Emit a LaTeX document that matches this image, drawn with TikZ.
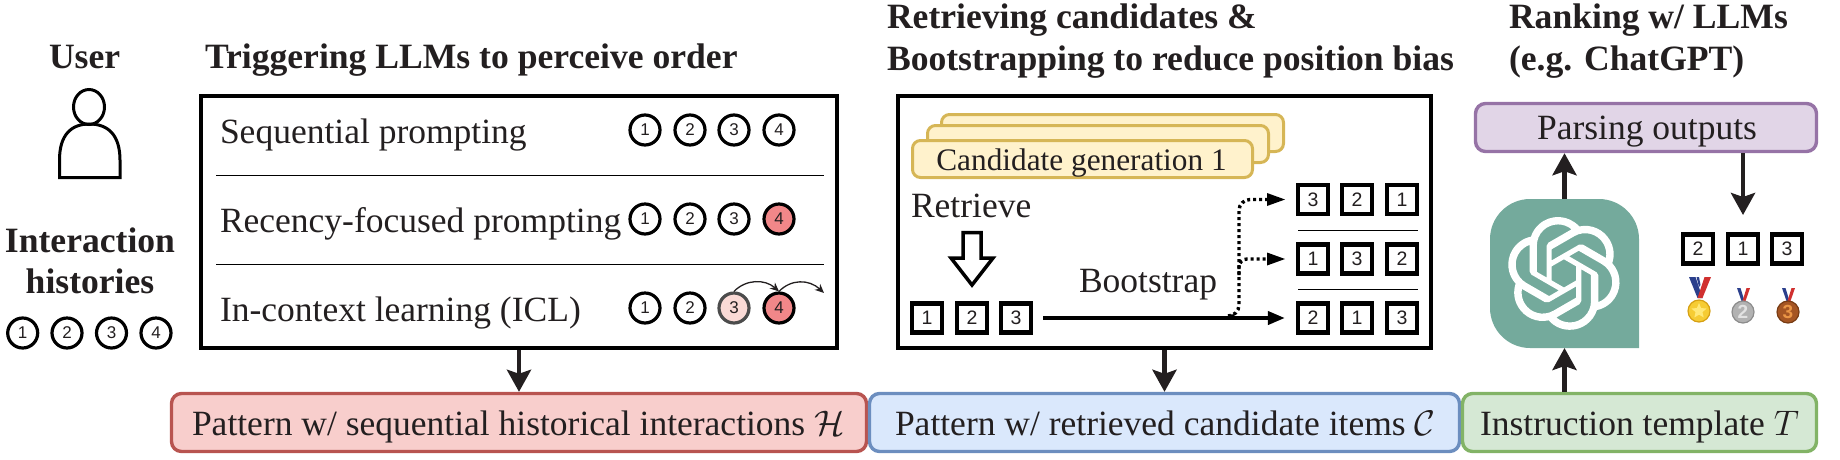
\documentclass[tikz,border=0pt]{standalone}
\usepackage{fix-cm}
\usepackage{fontspec}
\setmainfont{Liberation Serif}
\setsansfont{Liberation Sans}
\usetikzlibrary{arrows.meta,shapes.geometric,svg.path}
\definecolor{ink}{HTML}{231F20}
\definecolor{candfill}{HTML}{FFF2CC}
\definecolor{candline}{HTML}{D6B656}
\definecolor{ribblue}{HTML}{2B3F8C}
\definecolor{ribred}{HTML}{D0302F}
\newcommand{\sz}{\fontsize{35.5}{40}\selectfont}
\newcommand{\hd}{\fontsize{35.6}{42}\selectfont\bfseries}
\tikzset{
  txt/.style={anchor=base west,inner sep=0pt,outer sep=0pt,text=ink,font=\sz},
  head/.style={anchor=base west,inner sep=0pt,outer sep=0pt,text=ink,font=\hd},
  circ/.style={circle,draw=black,line width=3.2pt,minimum size=30pt,inner sep=0pt,fill=white,text=ink,font=\sffamily\fontsize{17}{17}\selectfont},
  sq/.style={rectangle,draw=black,line width=4.2pt,minimum width=30pt,minimum height=29pt,inner sep=0pt,fill=white,text=ink,font=\sffamily\fontsize{19.5}{20}\selectfont},
  mainbox/.style={rectangle,draw=black,line width=4pt,inner sep=0pt,outer sep=2pt},
  band/.style={rectangle,rounded corners=10pt,line width=3.4pt,inner sep=0pt,outer sep=1.7pt},
  cand/.style={rectangle,rounded corners=8pt,line width=3pt,draw=candline,fill=candfill,inner sep=0pt},
  bigarrow/.style={line width=4.6pt,draw=ink,-{Stealth[length=22pt,width=24pt,inset=4pt,fill=ink]}},
  inarrow/.style={line width=3.8pt,draw=black,-{Stealth[length=17pt,width=13pt,inset=0pt]}},
  dotarrow/.style={line width=3.4pt,draw=black,dash pattern=on 3pt off 3pt},
  sepline/.style={draw=black,line width=1pt},
  hop/.style={line width=1.3pt,draw=ink,-{Stealth[length=9pt,width=8pt]}},
  medalnum/.style={circle,line width=1.2pt,minimum size=22pt,inner sep=0pt,font=\bfseries\sffamily\fontsize{19}{19}\selectfont},
}
\begin{document}
\begin{tikzpicture}[x=1pt,y=-1pt]
\useasboundingbox (0,0) rectangle (1840,459);

% left column
\node[head] (tuser) at (49,68) {User};
\draw[line width=3pt,draw=black] (89,107) ellipse [x radius=15.5pt,y radius=17.5pt];
\draw[line width=3pt,draw=black,line join=miter] (59.5,177.5) -- (120,177.5) -- (120,160)
  .. controls (120,135) and (108,124) .. (89.5,124) .. controls (71,124) and (59.5,135) .. (59.5,160) -- cycle;
\node[head,anchor=base] (tinter) at (90,252) {Interaction};
\node[head,anchor=base] (thist) at (90,293) {histories};
\node[circ] (u1) at (22.7,333) {1};
\node[circ] (u2) at (67,333) {2};
\node[circ] (u3) at (111.5,333) {3};
\node[circ] (u4) at (156,333) {4};

% headings
\node[head] (h1) at (205,68) {Triggering LLMs to perceive order};
\node[head] (h2a) at (887,28) {Retrieving candidates \&};
\node[head] (h2b) at (887,70) {Bootstrapping to reduce position bias};
\node[head] (h3a) at (1509,28) {Ranking w/ LLMs};
\node[head] (h3b) at (1509,70) {(e.g. ChatGPT)};

% box 1
\node[mainbox,minimum width=636pt,minimum height=252pt] (box1) at (519,222) {};
\draw[sepline] (216,175) -- (824,175);
\draw[sepline] (216,264) -- (824,264);
\node[txt] (r1) at (220,143) {Sequential prompting};
\node[txt] (r2) at (220,232) {Recency-focused prompting};
\node[txt] (r3) at (220,321) {In-context learning (ICL)};
\node[circ] (a1) at (645,130) {1};
\node[circ] (a2) at (690,130) {2};
\node[circ] (a3) at (734,130) {3};
\node[circ] (a4) at (779,130) {4};
\node[circ] (b1) at (645,219) {1};
\node[circ] (b2) at (690,219) {2};
\node[circ] (b3) at (734,219) {3};
\node[circ,fill={rgb,255:red,241;green,135;blue,137}] (b4) at (779,219) {4};
\node[circ] (c1) at (645,308) {1};
\node[circ] (c2) at (690,308) {2};
\node[circ,fill={rgb,255:red,250;green,218;blue,214},draw=black!70] (c3) at (734,308) {3};
\node[circ,fill={rgb,255:red,241;green,135;blue,137}] (c4) at (779,308) {4};
\coordinate (hopend) at (824,293);
\draw[hop] (c3.north) .. controls (746,279) and (765,279) .. (c4.north);
\draw[hop] (c4.north) .. controls (791,279) and (809,279) .. (hopend);

% box 2
\node[mainbox,minimum width=533pt,minimum height=252pt] (box2) at (1164.5,222) {};
\node[cand,minimum width=342pt,minimum height=37pt] (g3) at (1112.5,133) {};
\node[cand,minimum width=341pt,minimum height=37pt] (g2) at (1098,144) {};
\node[cand,minimum width=340pt,minimum height=37pt] (g1) at (1082.5,159) {};
\node[anchor=base,inner sep=0pt,font=\fontsize{31.3}{36}\selectfont,text=ink] (g1t) at (1081.5,170) {Candidate generation 1};
\node[txt] (tret) at (911,217) {Retrieve};
\node[txt] (tboot) at (1079,292) {Bootstrap};
\draw[line width=3.5pt,draw=black,line join=miter,fill=white] (963,232.5) -- (981,232.5) -- (981,258) -- (993,258) -- (972,285) -- (951,258) -- (963,258) -- cycle;
\node[sq] (l1) at (927,318) {1};
\node[sq] (l2) at (972,318) {2};
\node[sq] (l3) at (1016,318) {3};
\node[sq] (s11) at (1313,199.5) {3};
\node[sq] (s12) at (1357,199.5) {2};
\node[sq] (s13) at (1402,199.5) {1};
\node[sq] (s21) at (1313,259) {1};
\node[sq] (s22) at (1357,259) {3};
\node[sq] (s23) at (1402,259) {2};
\node[sq] (s31) at (1313,318) {2};
\node[sq] (s32) at (1357,318) {1};
\node[sq] (s33) at (1402,318) {3};
\draw[sepline] (1298,230) -- (1418,230);
\draw[sepline] (1298,289) -- (1418,289);
\draw[dotarrow,rounded corners=11pt] (1234,316) -- (1239,316) -- (1239,199.5) -- (1268,199.5);
\draw[dotarrow,rounded corners=8pt] (1239,275) -- (1239,259) -- (1268,259);
\draw[inarrow,shorten <=10pt,shorten >=11pt] (l3.east) -- (s31.west);
\fill[black] (1267,193) -- (1285,199.5) -- (1267,206) -- cycle;
\fill[black] (1267,252.5) -- (1285,259) -- (1267,265.5) -- cycle;

% bands
\node[band,draw={rgb,255:red,184;green,84;blue,80},fill={rgb,255:red,248;green,206;blue,204},minimum width=695pt,minimum height=58pt] (red) at (519,422.5) {};
\node[band,draw={rgb,255:red,108;green,142;blue,191},fill={rgb,255:red,218;green,232;blue,252},minimum width=590pt,minimum height=58pt] (blue) at (1164.5,422.5) {};
\node[band,draw={rgb,255:red,130;green,179;blue,102},fill={rgb,255:red,213;green,232;blue,212},minimum width=354pt,minimum height=58pt] (green) at (1639.5,422.5) {};
\node[txt] (tred) at (192,435) {Pattern w/ sequential historical interactions $\mathcal{H}$};
\node[txt] (tblue) at (895,435) {Pattern w/ retrieved candidate items $\mathcal{C}$};
\node[txt] (tgreen) at (1480,435) {Instruction template $T$};
\node[band,draw={rgb,255:red,150;green,115;blue,166},fill={rgb,255:red,225;green,213;blue,231},minimum width=341pt,minimum height=48pt] (purple) at (1646,127.5) {};
\node[txt,anchor=base] (tpurple) at (1647,139) {Parsing outputs};

% logo
\node[inner sep=0pt,outer sep=0pt,minimum width=149pt,minimum height=149pt] (logo) at (1564.5,273.5) {};
\fill[fill={rgb,255:red,116;green,170;blue,156}] (1639,348) -- (1530,348) .. controls (1508,348) and (1490,330) .. (1490,308) -- (1490,239) .. controls (1490,217) and (1508,199) .. (1530,199) -- (1599,199) .. controls (1621,199) and (1639,217) .. (1639,239) -- cycle;
\begin{scope}[shift={(1507.5,217)},xscale=4.7,yscale=-4.7]
\fill[white,even odd rule] svg {M 22.2819 9.8211 a 5.9847 5.9847 0 0 0 -.5157 -4.9108 6.0462 6.0462 0 0 0 -6.5098 -2.9 A 6.0651 6.0651 0 0 0 4.9807 4.1818 a 5.9847 5.9847 0 0 0 -3.9977 2.9 6.0462 6.0462 0 0 0 .7427 7.0966 5.98 5.98 0 0 0 .511 4.9107 6.051 6.051 0 0 0 6.5146 2.9001 A 5.9847 5.9847 0 0 0 13.2599 24 a 6.0557 6.0557 0 0 0 5.7718 -4.2058 5.9894 5.9894 0 0 0 3.9977 -2.9001 6.0557 6.0557 0 0 0 -.7475 -7.0729 z M 13.2599 22.4292 a 4.4755 4.4755 0 0 1 -2.8764 -1.0408 l .1419 -.0804 4.7783 -2.7582 a .7948 .7948 0 0 0 .3927 -.6813 v -6.7369 l 2.02 1.1686 a .071 .071 0 0 1 .038 .052 v 5.5826 a 4.504 4.504 0 0 1 -4.4945 4.4944 z M 3.5992 18.3038 a 4.4708 4.4708 0 0 1 -.5346 -3.0137 l .142 .0852 4.783 2.7582 a .7712 .7712 0 0 0 .7806 0 l 5.8428 -3.3685 v 2.3324 a .0804 .0804 0 0 1 -.0332 .0615 L 9.74 19.9502 a 4.4992 4.4992 0 0 1 -6.1408 -1.6464 z M 2.3408 7.8956 a 4.485 4.485 0 0 1 2.3655 -1.9728 V 11.6 a .7664 .7664 0 0 0 .3879 .6765 l 5.8144 3.3543 -2.0201 1.1685 a .0757 .0757 0 0 1 -.071 0 l -4.8303 -2.7865 A 4.504 4.504 0 0 1 2.3408 7.872 z M 18.9371 11.7514 L 13.1038 8.364 L 15.1192 7.2 a .0757 .0757 0 0 1 .071 0 l 4.8303 2.7913 a 4.4944 4.4944 0 0 1 -.6765 8.1042 v -5.6772 a .79 .79 0 0 0 -.407 -.667 z M 20.9478 8.7283 l -.142 -.0852 -4.7735 -2.7818 a .7759 .7759 0 0 0 -.7854 0 L 9.409 9.2297 V 6.8974 a .0662 .0662 0 0 1 .0284 -.0615 l 4.8303 -2.7866 a 4.4992 4.4992 0 0 1 6.6802 4.66 z M 8.3065 12.863 l -2.02 -1.1638 a .0804 .0804 0 0 1 -.038 -.0567 V 6.0742 a 4.4992 4.4992 0 0 1 7.3757 -3.4537 l -.142 .0805 L 8.704 5.459 a .7948 .7948 0 0 0 -.3927 .6813 z M 9.4041 10.4976 l 2.602 -1.4998 2.6069 1.4998 v 2.9994 l -2.5974 1.4997 -2.6067 -1.4997 Z};
\end{scope}

% result
\node[sq] (o1) at (1698,249) {2};
\node[sq] (o2) at (1743,249) {1};
\node[sq] (o3) at (1787,249) {3};
\coordinate (downend) at (1743,215);
\fill[ribblue] (1689,277) -- (1695.5,277) -- (1702.5,298) -- (1697.5,298) -- cycle;
\fill[ribblue] (1696.5,277) -- (1699,277) -- (1700.5,285) -- (1699,287) -- cycle;
\fill[ribred] (1711,277) -- (1704.5,277) -- (1697.5,298) -- (1702.5,298) -- cycle;
\node[medalnum,draw={rgb,255:red,214;green,160;blue,20},fill={rgb,255:red,246;green,204;blue,52}] (m1) at (1699,311) {};
\node[star,star points=5,star point ratio=2.2,fill={rgb,255:red,255;green,232;blue,120},minimum size=16pt,inner sep=0pt] (m1s) at (m1) {};
\fill[ribblue] (1737,288) -- (1740.5,288) -- (1744.5,301) -- (1741.5,301) -- cycle;
\fill[ribred] (1750,288) -- (1746.5,288) -- (1742.5,301) -- (1745.5,301) -- cycle;
\node[medalnum,draw={rgb,255:red,140;green,140;blue,140},fill={rgb,255:red,178;green,178;blue,178},text={rgb,255:red,226;green,226;blue,226}] (m2) at (1743,312) {2};
\fill[ribblue] (1782,288) -- (1785.5,288) -- (1789.5,301) -- (1786.5,301) -- cycle;
\fill[ribred] (1795,288) -- (1791.5,288) -- (1787.5,301) -- (1790.5,301) -- cycle;
\node[medalnum,draw={rgb,255:red,120;green,60;blue,20},fill={rgb,255:red,165;green,85;blue,35},text={rgb,255:red,235;green,150;blue,70}] (m3) at (1788,312) {3};

% connectors
\draw[bigarrow] (box1.south) -- (box1.south |- red.north);
\draw[bigarrow] (box2.south) -- (box2.south |- blue.north);
\draw[bigarrow] (logo.north) -- (logo.north |- purple.south);
\draw[bigarrow] (logo.south |- green.north) -- (logo.south);
\draw[bigarrow] (downend |- purple.south) -- (downend);
\end{tikzpicture}
\end{document}
